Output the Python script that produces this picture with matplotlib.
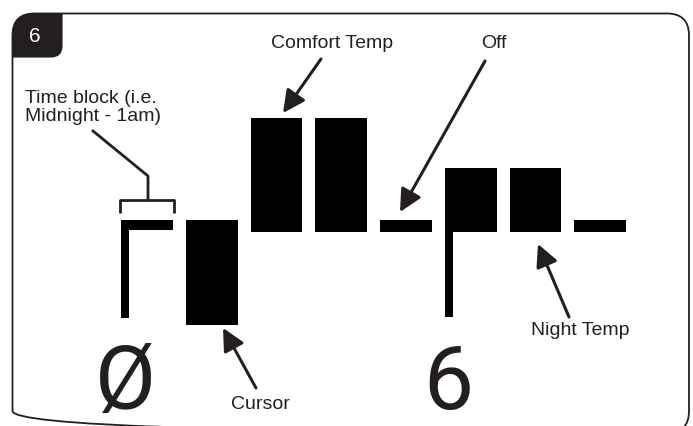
import matplotlib.pyplot as plt
from matplotlib.patches import PathPatch
from matplotlib.path import Path

# display state for one programme screen, one entry per time block
slots = [0, 1, 2, 3, 4, 5, 6, 7]
bar_top = [12, 12, 114, 114, 12, 64, 64, 12]
bar_bottom = [2, -93, 0, 0, 0, 0, 0, 0]

# hour markers under the blocks
marker_slots = [0, 5]
marker_bottom = [-86, -85]
hour_labels = ['\u00d8', '6']

ink = '#231f20'
W, H = 693, 426

fig = plt.figure(figsize=(W / 100, H / 100), dpi=100)

# full figure axes in pixel units for frame, labels and arrows
ax = fig.add_axes([0, 0, 1, 1])
ax.set_xlim(0, W)
ax.set_ylim(H, 0)
ax.axis('off')


def rounded_box(x0, y0, x1, y1, r):
    verts = [(x0, y1 - r), (x0, y0 + r), (x0, y0), (x0 + r, y0),
             (x1 - r, y0), (x1, y0), (x1, y0 + r),
             (x1, y1 - r), (x1, y1), (x1 - r, y1),
             (x0 + r, y1), (x0, y1), (x0, y1 - r)]
    codes = [Path.MOVETO, Path.LINETO, Path.CURVE3, Path.CURVE3,
             Path.LINETO, Path.CURVE3, Path.CURVE3,
             Path.LINETO, Path.CURVE3, Path.CURVE3,
             Path.LINETO, Path.CURVE3, Path.CURVE3]
    return Path(verts, codes)


# outer frame, its bottom edge runs just past the picture
ax.add_patch(PathPatch(rounded_box(12.5, 13.5, 689, 433, 22), fc='none', ec=ink, lw=1.3))


# number tab, rounded top-left and bottom-right
def tab_path(x0, y0, x1, y1, r1, r2):
    verts = [(x0, y0 + r1), (x0, y0), (x0 + r1, y0),
             (x1, y0),
             (x1, y1 - r2), (x1, y1), (x1 - r2, y1),
             (x0, y1), (x0, y0 + r1)]
    codes = [Path.MOVETO, Path.CURVE3, Path.CURVE3,
             Path.LINETO,
             Path.LINETO, Path.CURVE3, Path.CURVE3,
             Path.LINETO, Path.CLOSEPOLY]
    return Path(verts, codes)


ax.add_patch(PathPatch(tab_path(12.5, 13.5, 62, 57, 22, 11), fc=ink, ec=ink, lw=0.8))
ax.text(35, 37, '6', color='white', fontsize=15, ha='center', va='center',
        family='Liberation Sans')

# bars axes: x in time-block slots, y in display level
bx = fig.add_axes([100 / W, (H - 340) / H, 550 / W, 240 / H])
bx.set_xlim((100 - 147) / 64.75, (650 - 147) / 64.75)
bx.set_ylim(-108, 132)
bx.axis('off')
bx.patch.set_alpha(0)

heights = [t - b for t, b in zip(bar_top, bar_bottom)]
bx.bar(slots, heights, bottom=bar_bottom, width=0.8, color='black', lw=0)
stem_h = [bar_top[s] - b for s, b in zip(marker_slots, marker_bottom)]
bx.bar([s - 0.4 for s in marker_slots], stem_h, bottom=marker_bottom, width=0.125,
       align='edge', color='black', lw=0)

for s, lab in zip(marker_slots, hour_labels):
    bx.text(s - 0.34, -177, lab, ha='center', va='baseline', fontsize=64,
            family='Roboto', weight='normal', color=ink, clip_on=False)

lab_font = dict(family='Liberation Sans', fontsize=14, color=ink)

# time block bracket and leader
ax.plot([120, 120, 174, 174], [213, 200, 200, 213], color=ink, lw=2, solid_capstyle='butt')
ax.plot([148, 148, 93], [200, 176, 131], color=ink, lw=2)
ax.text(25, 121, 'Time block (i.e.\nMidnight - 1am)', ha='left', va='baseline',
        linespacing=1.1, **lab_font)

arrow = dict(arrowstyle='-|>,head_length=0.9,head_width=0.45', color=ink, lw=2.2,
             shrinkA=0, shrinkB=0, mutation_scale=15)
ax.annotate('', xy=(283, 113), xytext=(321, 59), arrowprops=arrow)
ax.text(332, 48, 'Comfort Temp', ha='center', va='baseline', **lab_font)

ax.annotate('', xy=(400, 212), xytext=(485, 61), arrowprops=arrow)
ax.text(494, 48, 'Off', ha='center', va='baseline', **lab_font)

ax.annotate('', xy=(538, 244), xytext=(569, 317), arrowprops=arrow)
ax.text(580, 335, 'Night Temp', ha='center', va='baseline', **lab_font)

ax.annotate('', xy=(223, 328), xytext=(256, 388), arrowprops=arrow)
ax.text(260, 409, 'Cursor', ha='center', va='baseline', **lab_font)

fig.savefig('out.png', dpi=100)
